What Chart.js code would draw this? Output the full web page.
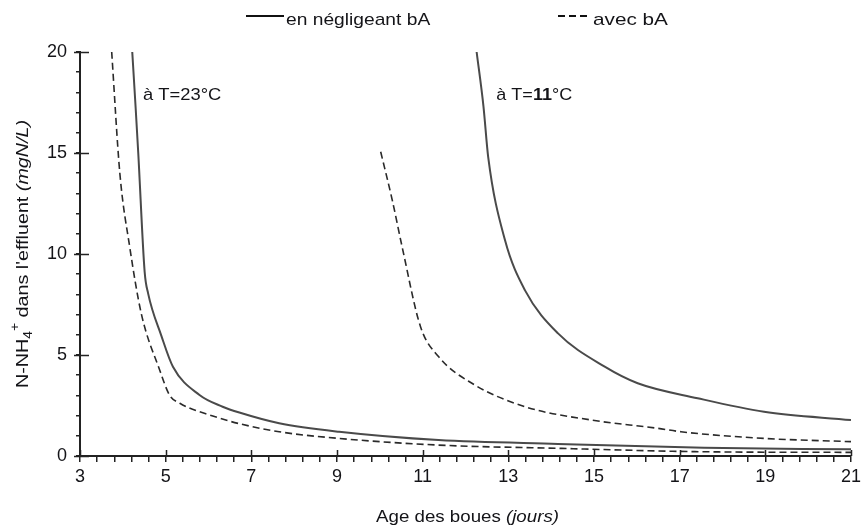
<!DOCTYPE html>
<html>
<head>
<meta charset="utf-8">
<script src="https://cdn.jsdelivr.net/npm/chart.js@4.4.0/dist/chart.umd.min.js"></script>
<style>
  body { margin: 0; background: #fff; }
  #wrap { width: 865px; height: 530px; }
</style>
</head>
<body>
<div id="wrap"><canvas id="chart" width="865" height="530"></canvas></div>
<script>
// age des boues (jours) -> N-NH4+ effluent (mgN/L)

// T = 23°C, en négligeant bA
const age23Solid = [4.22, 4.30, 4.36, 4.51, 4.59, 4.90, 5.17, 5.79, 6.33, 6.72, 7.65, 9.05, 11.37, 14.16, 17.57, 21];
const nh4_23Solid = [20, 17.2, 15, 9.1, 8.05, 5.95, 4.42, 3.02, 2.44, 2.15, 1.62, 1.2, 0.79, 0.6, 0.41, 0.33];

// T = 23°C, avec bA
const age23Dash = [3.74, 3.93, 4.16, 4.43, 4.86, 5.09, 5.33, 6.10, 6.72, 7.65, 9.05, 11.37, 14.16, 17.57, 21];
const nh4_23Dash = [20, 14, 10.36, 7.06, 4.26, 3.02, 2.61, 1.98, 1.6, 1.2, 0.87, 0.54, 0.38, 0.21, 0.18];

// T = 11°C, en négligeant bA
const age11Solid = [12.26, 12.42, 12.53, 12.92, 13.39, 14.16, 15.25, 16.02, 17.42, 18.97, 21];
const nh4_11Solid = [20, 17.3, 14.8, 10.7, 8.2, 6.07, 4.42, 3.6, 2.86, 2.19, 1.78];

// T = 11°C, avec bA
const age11Dash = [10.02, 10.29, 10.52, 10.95, 11.37, 12.15, 13.39, 14.94, 16.49, 17.03, 18.97, 21];
const nh4_11Dash = [15.06, 12.67, 10.36, 6.4, 4.92, 3.6, 2.44, 1.78, 1.37, 1.2, 0.87, 0.71];

// labelled ticks (minor ticks in between)
const xTickLabels = [3, 5, 7, 9, 11, 13, 15, 17, 19, 21];
const yTickLabels = [0, 5, 10, 15, 20];

const FAM = '"Liberation Sans", Arial, sans-serif';
const INK = '#141418';

function pts(xs, ys) {
    return xs.map((x, i) => ({ x: x, y: ys[i] }));
}

// draws text pieces stretched horizontally
function drawParts(ctx, parts, x, y, sx, align) {
    ctx.save();
    ctx.translate(x, y);
    ctx.scale(sx, 1);
    let total = 0;
    parts.forEach(p => { ctx.font = p.f; p.w = ctx.measureText(p.t).width; total += p.w; });
    let cx = align === 'center' ? -total / 2 : 0;
    ctx.fillStyle = INK;
    ctx.textBaseline = 'alphabetic';
    ctx.textAlign = 'left';
    parts.forEach(p => { ctx.font = p.f; ctx.fillText(p.t, cx, p.dy || 0); cx += p.w; });
    ctx.restore();
}

const extras = {
    id: 'extras',
    afterDraw(chart) {
        const ctx = chart.ctx;
        const xs = chart.scales.x, ys = chart.scales.y;
        const area = chart.chartArea;

        // major ticks cross the axis
        ctx.save();
        ctx.strokeStyle = '#222';
        ctx.lineWidth = 1.5;
        ctx.beginPath();
        xTickLabels.forEach(v => {
            const px = Math.round(xs.getPixelForValue(v)) + 0.5;
            ctx.moveTo(px, area.bottom);
            ctx.lineTo(px, area.bottom - 6);
        });
        yTickLabels.forEach(v => {
            const py = Math.round(ys.getPixelForValue(v)) + 0.5;
            ctx.moveTo(area.left - 6, py);
            ctx.lineTo(area.left + 9, py);
        });
        ctx.stroke();

        // legend
        ctx.lineWidth = 2;
        ctx.strokeStyle = '#111';
        ctx.beginPath();
        ctx.moveTo(246, 16); ctx.lineTo(284, 16);
        ctx.stroke();
        ctx.setLineDash([7, 4]);
        ctx.beginPath();
        ctx.moveTo(558, 16); ctx.lineTo(589, 16);
        ctx.stroke();
        ctx.setLineDash([]);
        ctx.restore();
        drawParts(ctx, [{ t: 'en négligeant bA', f: '17px ' + FAM }], 286, 25, 1.13);
        drawParts(ctx, [{ t: 'avec bA', f: '17px ' + FAM }], 593, 25, 1.22);

        // temperature notes
        drawParts(ctx, [{ t: 'à T=23°C', f: '17px ' + FAM }],
            xs.getPixelForValue(4.47), ys.getPixelForValue(17.6), 1.08);
        drawParts(ctx, [
            { t: 'à T=', f: '17px ' + FAM },
            { t: '11', f: 'bold 17px ' + FAM },
            { t: '°C', f: '17px ' + FAM }
        ], xs.getPixelForValue(12.72), ys.getPixelForValue(17.6), 1.06);

        // x title
        drawParts(ctx, [
            { t: 'Age des boues ', f: '17px ' + FAM },
            { t: '(jours)', f: 'italic 17px ' + FAM }
        ], (area.left + area.right) / 2 + 2, 522, 1.1, 'center');

        // y title, rotated
        ctx.save();
        ctx.translate(22, (area.top + area.bottom) / 2);
        ctx.rotate(-Math.PI / 2);
        drawParts(ctx, [
            { t: 'N-NH', f: '17px ' + FAM },
            { t: '4', f: '12px ' + FAM, dy: 4 },
            { t: '+', f: '12px ' + FAM, dy: -9 },
            { t: " dans l'effluent ", f: '17px ' + FAM },
            { t: '(mgN/L)', f: 'italic 17px ' + FAM }
        ], 0, 6, 1.16, 'center');
        ctx.restore();
    }
};

function line(data, dashed) {
    return {
        data: data,
        borderColor: dashed ? '#2a2a2a' : '#4a4a4a',
        borderWidth: dashed ? 1.6 : 2,
        borderDash: dashed ? [7, 4] : [],
        pointRadius: 0,
        fill: false,
        cubicInterpolationMode: 'monotone'
    };
}

const chart = new Chart(document.getElementById('chart').getContext('2d'), {
    type: 'line',
    data: {
        datasets: [
            line(pts(age23Solid, nh4_23Solid), false),
            line(pts(age23Dash, nh4_23Dash), true),
            line(pts(age11Solid, nh4_11Solid), false),
            line(pts(age11Dash, nh4_11Dash), true)
        ]
    },
    options: {
        responsive: false,
        animation: false,
        layout: { padding: { left: 0, right: 10, top: 52, bottom: 0 } },
        plugins: {
            legend: { display: false },
            tooltip: { enabled: false }
        },
        scales: {
            x: {
                type: 'linear',
                min: 3,
                max: 21,
                afterFit: s => { s.height = 74; },
                ticks: {
                    stepSize: 0.4,
                    autoSkip: false,
                    maxRotation: 0,
                    padding: 4,
                    color: INK,
                    font: { family: FAM, size: 18 },
                    callback: v => xTickLabels.includes(v) ? String(v) : ''
                },
                grid: { drawOnChartArea: false, drawTicks: true, tickLength: 6, color: '#222', lineWidth: 1.5 },
                border: { display: true, color: '#222', width: 2 }
            },
            y: {
                min: 0,
                max: 20,
                afterFit: s => { s.width = 80; },
                ticks: {
                    stepSize: 1,
                    autoSkip: false,
                    padding: 9,
                    color: INK,
                    font: { family: FAM, size: 18 },
                    callback: v => yTickLabels.includes(v) ? String(v) : ''
                },
                grid: { drawOnChartArea: false, drawTicks: true, tickLength: 4, color: '#222', lineWidth: 1.5 },
                border: { display: true, color: '#222', width: 2 }
            }
        }
    },
    plugins: [extras]
});
</script>
</body>
</html>
